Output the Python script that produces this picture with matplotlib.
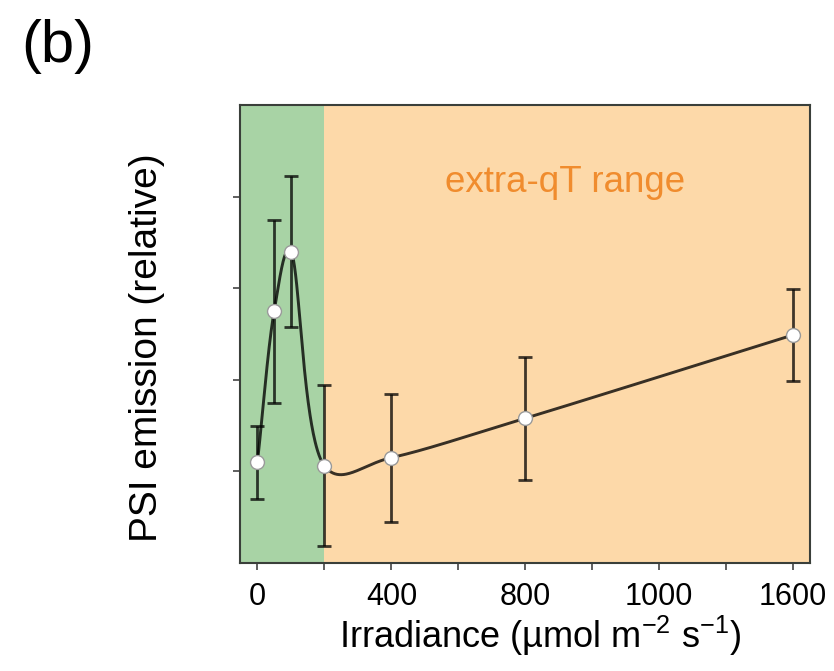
import numpy as np
import matplotlib
matplotlib.use("Agg")
import matplotlib.pyplot as plt

plt.rcParams['font.family'] = ['Liberation Sans', 'DejaVu Sans']
plt.rcParams['mathtext.default'] = 'regular'

# Data
irradiance = [0, 50, 100, 200, 400, 800, 1600]
psi_emission = [1.10, 2.75, 3.40, 1.06, 1.15, 1.58, 2.49]
psi_err = [0.40, 1.00, 0.82, 0.88, 0.70, 0.67, 0.50]
xtick_values = [0, 400, 800, 1200, 1600]
xtick_labels = ['0', '400', '800', '1000', '1600']
xminor_values = [200, 600, 1000, 1400]
ytick_values = [1, 2, 3, 4]
qt_boundary = 200


def catmull_rom(P, n_seg=80, alpha=0.5):
    """Catmull-Rom curve through points P (N x 2)."""
    P = np.asarray(P, float)
    first = 2 * P[0] - P[1]
    last = 2 * P[-1] - P[-2]
    Q = np.vstack([first, P, last])
    out = []
    for i in range(1, len(Q) - 2):
        p0, p1, p2, p3 = Q[i - 1], Q[i], Q[i + 1], Q[i + 2]
        t0 = 0.0
        t1 = t0 + np.linalg.norm(p1 - p0) ** alpha
        t2 = t1 + np.linalg.norm(p2 - p1) ** alpha
        t3 = t2 + np.linalg.norm(p3 - p2) ** alpha
        t = np.linspace(t1, t2, n_seg)[:, None]
        A1 = (t1 - t) / (t1 - t0) * p0 + (t - t0) / (t1 - t0) * p1
        A2 = (t2 - t) / (t2 - t1) * p1 + (t - t1) / (t2 - t1) * p2
        A3 = (t3 - t) / (t3 - t2) * p2 + (t - t2) / (t3 - t2) * p3
        B1 = (t2 - t) / (t2 - t0) * A1 + (t - t0) / (t2 - t0) * A2
        B2 = (t3 - t) / (t3 - t1) * A2 + (t - t1) / (t3 - t1) * A3
        C = (t2 - t) / (t2 - t1) * B1 + (t - t1) / (t2 - t1) * B2
        out.append(C if i == 1 else C[1:])
    return np.vstack(out)


fig = plt.figure(figsize=(8.34, 6.71), dpi=100)
ax = fig.add_axes([0.2878, 0.1610, 0.6834, 0.6825])

xmin, xmax = -52, 1650
ax.set_xlim(xmin, xmax)
ax.set_ylim(0, 5)

ax.axvspan(xmin, qt_boundary, color='#a8d3a5', lw=0, zorder=0)
ax.axvspan(qt_boundary, xmax, color='#fdd9a9', lw=0, zorder=0)

# smooth curve computed in display space, then mapped back to data
pts_disp = ax.transData.transform(np.column_stack([irradiance, psi_emission]))
curve_disp = catmull_rom(pts_disp, alpha=0.25)
curve = ax.transData.inverted().transform(curve_disp)
ax.plot(curve[:, 0], curve[:, 1], color='black', alpha=0.78, lw=2.1, zorder=2)

ax.errorbar(irradiance, psi_emission, yerr=psi_err, fmt='none',
            ecolor='black', alpha=0.75, elinewidth=2.0, capsize=5,
            capthick=2.0, zorder=3)
ax.plot(irradiance, psi_emission, 'o', ms=10, mfc='white', mec='#9a9a9a',
        mew=1.0, zorder=4)

ax.text(918, 4.15, 'extra-qT range', color='#f08c2e', fontsize=26.5,
        ha='center', va='center')

ax.set_xticks(xtick_values)
ax.set_xticklabels(xtick_labels)
ax.set_xticks(xminor_values, minor=True)
ax.set_yticks(ytick_values)
ax.set_yticklabels([])
ax.tick_params(axis='both', which='both', direction='out', length=5,
               width=1.2, color='#444444', labelsize=22, pad=9)

for s in ax.spines.values():
    s.set_color('#3a3f3a')
    s.set_linewidth(1.5)

ax.set_xlabel(r'Irradiance (µmol m$^{-2}$ s$^{-1}$)', fontsize=26)
ax.xaxis.set_label_coords(0.526, -0.11)
ax.set_ylabel('PSI emission (relative)', fontsize=28)
ax.yaxis.set_label_coords(-0.132, 0.469)

fig.text(0.025, 0.93, '(b)', fontsize=43, ha='left', va='center')

fig.savefig('out.png', dpi=100)
